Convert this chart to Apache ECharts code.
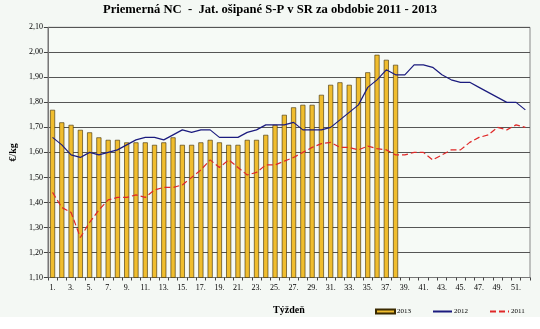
<!DOCTYPE html>
<html>
<head>
<meta charset="utf-8">
<script src="https://cdn.jsdelivr.net/npm/echarts@6/dist/echarts.min.js"></script>
<style>
html,body{margin:0;padding:0;background:#ffffff;}
#c{width:540px;height:329px;}
</style>
</head>
<body>
<div id="c"></div>
<script>
const weeks = [];
for (let i = 1; i <= 52; i++) weeks.push(i + '.');

const s2013 = [1.77,1.72,1.71,1.69,1.68,1.66,1.65,1.65,1.64,1.64,1.64,1.63,1.64,1.66,1.63,1.63,1.64,1.65,1.64,1.63,1.63,1.65,1.65,1.67,1.71,1.75,1.78,1.79,1.79,1.83,1.87,1.88,1.87,1.90,1.92,1.99,1.97,1.95];

const s2012 = [1.66,1.63,1.59,1.58,1.60,1.59,1.60,1.61,1.63,1.65,1.66,1.66,1.65,1.67,1.69,1.68,1.69,1.69,1.66,1.66,1.66,1.68,1.69,1.71,1.71,1.71,1.72,1.69,1.69,1.69,1.70,1.73,1.76,1.79,1.86,1.89,1.93,1.91,1.91,1.95,1.95,1.94,1.91,1.89,1.88,1.88,1.86,1.84,1.82,1.80,1.80,1.77];

const s2011 = [1.44,1.38,1.36,1.26,1.32,1.37,1.41,1.42,1.42,1.43,1.42,1.45,1.46,1.46,1.47,1.50,1.53,1.57,1.54,1.57,1.54,1.51,1.52,1.55,1.55,1.565,1.58,1.60,1.62,1.635,1.64,1.62,1.62,1.61,1.625,1.615,1.61,1.59,1.59,1.60,1.60,1.57,1.59,1.61,1.61,1.64,1.66,1.67,1.70,1.69,1.71,1.70];

const seriesNames = ['2013','2012','2011'];
const titleText = 'Priemerná NC  -  Jat. ošipané S-P v SR za obdobie 2011 - 2013';
const xName = 'Týždeň';
const yName = '€/kg';

const serif = '"Liberation Serif","DejaVu Serif",serif';
const chart = echarts.init(document.getElementById('c'), null, {renderer:'canvas'});
chart.setOption({
  animation: false,
  backgroundColor: '#ffffff',
  graphic: [{
    type: 'rect', z: -10, silent: true,
    shape: {x: 0, y: 0, width: 540, height: 317},
    style: {fill: '#F4F8F4'}
  }],
  title: {
    text: titleText,
    left: 'center', top: 3, padding: 0,
    textStyle: {fontFamily: serif, fontSize: 12.6, fontWeight: 'bold', color: '#000'}
  },
  legend: {
    left: 375, top: 308, padding: 0,
    itemWidth: 19, itemHeight: 4, itemGap: 21,
    textStyle: {fontFamily: serif, fontSize: 7, color: '#000', padding: [0,0,0,-3]},
    data: [
      {name: '2013', icon: 'rect'},
      {name: '2012', itemStyle: {opacity: 0}},
      {name: '2011', itemStyle: {opacity: 0}}
    ]
  },
  grid: {
    left: 41, right: 10, top: 27.3, bottom: 51.5,
    show: true, borderColor: '#888', borderWidth: 1, backgroundColor: '#F6FAF6'
  },
  xAxis: {
    type: 'category',
    data: weeks,
    boundaryGap: true,
    name: xName, nameLocation: 'middle', nameGap: 28,
    nameTextStyle: {fontFamily: serif, fontSize: 10, fontWeight: 'bold', color: '#000'},
    axisLine: {lineStyle: {color: '#777', width: 1}},
    axisTick: {show: true, interval: 0, length: 3, lineStyle: {color: '#444'}},
    axisLabel: {interval: 1, fontFamily: serif, fontSize: 8, color: '#000', margin: 6},
    splitLine: {show: false}
  },
  yAxis: {
    type: 'value',
    min: 1.1, max: 2.1, interval: 0.1,
    name: yName, nameLocation: 'middle', nameGap: 28, nameRotate: 90,
    nameTextStyle: {fontFamily: serif, fontSize: 10, fontWeight: 'bold', color: '#000'},
    axisLine: {show: true, lineStyle: {color: '#777', width: 1}},
    axisTick: {show: true, length: 4, lineStyle: {color: '#444'}},
    axisLabel: {fontFamily: serif, fontSize: 8, color: '#000', margin: 5,
      formatter: v => v.toFixed(2).replace('.', ',')},
    splitLine: {show: true, lineStyle: {color: '#555', width: 1}}
  },
  series: [
    {
      name: seriesNames[0], type: 'bar', data: s2013, barWidth: 5,
      itemStyle: {color: '#F0BD2E', borderColor: '#3a2a00', borderWidth: 0.6},
      z: 2
    },
    {
      name: seriesNames[1], type: 'line', data: s2012, symbol: 'none', showSymbol: false,
      lineStyle: {color: '#1B1B7E', width: 1.2},
      itemStyle: {color: '#1B1B7E'},
      z: 3
    },
    {
      name: seriesNames[2], type: 'line', data: s2011, symbol: 'none', showSymbol: false,
      lineStyle: {color: '#E02828', width: 1.2, type: [6,3]},
      itemStyle: {color: '#E02828'},
      z: 3
    }
  ]
});
</script>
</body>
</html>
